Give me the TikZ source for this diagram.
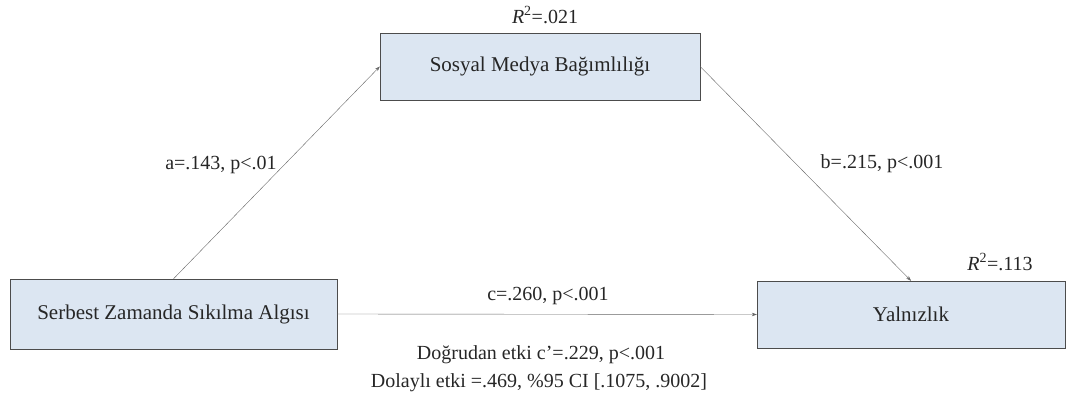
\documentclass[tikz,border=0pt]{standalone}
\usepackage{fontspec}
\setmainfont{Liberation Serif}
\usetikzlibrary{arrows.meta}
\definecolor{boxblue}{HTML}{DCE6F2}
\begin{document}
\begin{tikzpicture}[x=1pt,y=-1pt,font=\fontsize{20}{22}\selectfont,text=black!85]
\useasboundingbox (0,0) rectangle (1075,403);
\tikzset{varbox/.style={draw=black!70, fill=boxblue, minimum height=67pt, inner sep=0pt, font=\fontsize{21}{23}\selectfont},
  yol/.style={draw=black!60, -{Stealth[length=5pt,width=3.5pt]}}}
\node[varbox, minimum width=327pt, minimum height=70pt] (sza) at (173.5,314){Serbest Zamanda Sıkılma Algısı};
\node[varbox, minimum width=320pt] (smb) at (540,66.5){Sosyal Medya Bağımlılığı};
\node[varbox, minimum width=308pt] (yal) at (911,314.5){Yalnızlık};
\draw[yol](sza.north) -- (smb.west);
\draw[yol](smb.east) -- (yal.north);
\draw[yol](sza.east) -- (yal.west);
\node (r1) at (545,15){\textit{R}\textsuperscript{2}=.021};
\node (r2) at (1000,262){\textit{R}\textsuperscript{2}=.113};
\node (la) at (221,165){a=.143, p<.01};
\node (lb) at (882,164){b=.215, p<.001};
\node (lc) at (548,296){c=.260, p<.001};
\node (ld) at (541,355){Doğrudan etki c’=.229, p<.001};
\node (le) at (539,383){Dolaylı etki =.469, \%95 CI [.1075, .9002]};
\end{tikzpicture}
\end{document}
